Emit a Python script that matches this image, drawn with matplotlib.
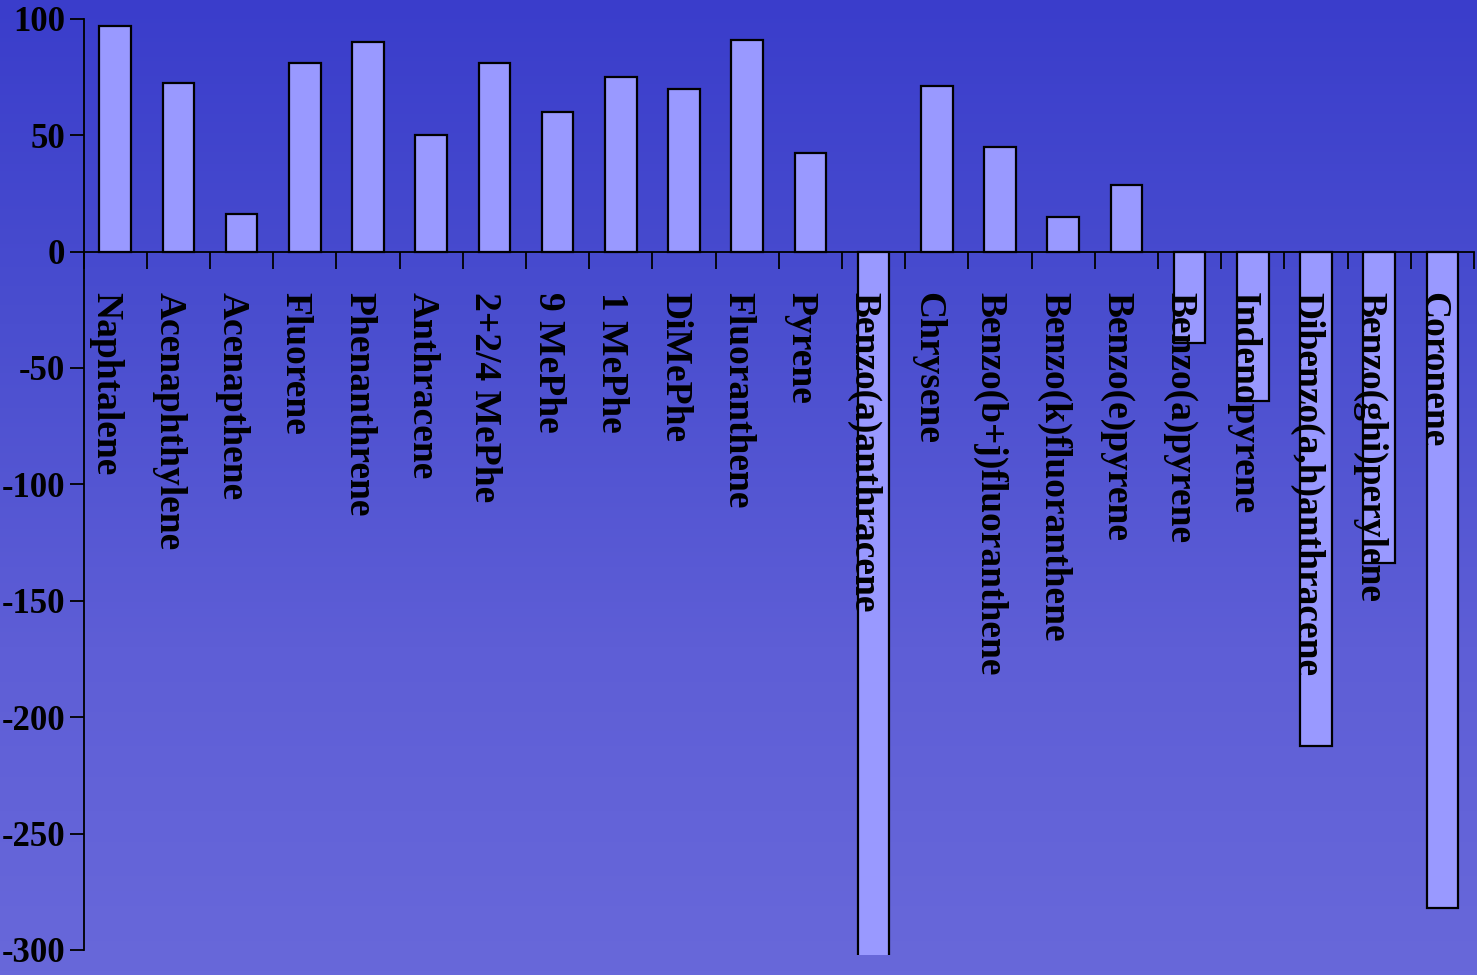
import numpy as np
import matplotlib
matplotlib.use("Agg")
import matplotlib.pyplot as plt
from matplotlib.colors import LinearSegmentedColormap

categories = ["Naphtalene", "Acenaphthylene", "Acenapthene", "Fluorene", "Phenanthrene",
              "Anthracene", "2+2/4 MePhe", "9 MePhe", "1 MePhe", "DiMePhe", "Fluoranthene",
              "Pyrene", "Benzo(a)anthracene", "Chrysene", "Benzo(b+j)fluoranthene",
              "Benzo(k)fluoranthene", "Benzo(e)pyrene", "Benzo(a)pyrene", "Indenopyrene",
              "Dibenzo(a,h)anthracene", "Benzo(ghi)perylene", "Coronene"]
values = [97, 72.5, 16, 81, 90, 50, 81, 60, 75, 70, 91, 42.5, -310, 71, 45, 15, 28.5,
          -39.5, -64, -212.5, -134, -282]
yticks = [-300, -250, -200, -150, -100, -50, 0, 50, 100]

W, H = 1477, 975
fig = plt.figure(figsize=(W / 100, H / 100), dpi=100)

# gradient background
bg = fig.add_axes([0, 0, 1, 1], zorder=-10)
cmap = LinearSegmentedColormap.from_list("bg", ["#3a3dcb", "#4a4ecf", "#5e5ed6", "#6868da"])
grad = np.linspace(0, 1, 256).reshape(-1, 1)
bg.imshow(grad, aspect="auto", cmap=cmap, extent=[0, 1, 0, 1], origin="upper")
bg.set_axis_off()

left = 83.5 / W
right = 1474 / W
top = 1 - 18.7 / H
bottom = 1 - 954.6 / H
ax = fig.add_axes([left, bottom, right - left, top - bottom])
ax.set_facecolor("none")

x = np.arange(len(categories))
ax.bar(x, values, width=0.5, color="#9999ff", edgecolor="black", linewidth=1.6, zorder=2)

ax.set_xlim(-0.5, len(categories) - 0.5)
ax.set_ylim(-302, 100)
ax.spines["left"].set_bounds(-300, 100)
ax.spines["left"].set_linewidth(1.3)
ax.spines["right"].set_visible(False)
ax.spines["top"].set_visible(False)
ax.spines["bottom"].set_position(("data", 0))
ax.spines["bottom"].set_linewidth(1.3)
ax.spines["bottom"].set_zorder(3)

ax.set_yticks(yticks)
ax.set_yticklabels([str(v) for v in yticks], fontfamily="Liberation Serif",
                   fontweight="bold", fontsize=25)
ax.tick_params(axis="y", direction="out", length=10, width=1.3, pad=3, colors="black")

ax.set_xticks(x)
ax.set_xticklabels([])
ax.tick_params(axis="x", which="major", length=0)
ax.set_xticks(np.arange(len(categories) + 1) - 0.5, minor=True)
ax.tick_params(axis="x", which="minor", direction="out", length=12, width=1.3)

for xi, name in zip(x, categories):
    ax.text(xi - 0.15, -17.5, name, rotation=-90, ha="center", va="top",
            fontfamily="Liberation Serif", fontweight="bold", fontsize=27,
            color="black", zorder=5)

fig.savefig("out.png", dpi=100)
